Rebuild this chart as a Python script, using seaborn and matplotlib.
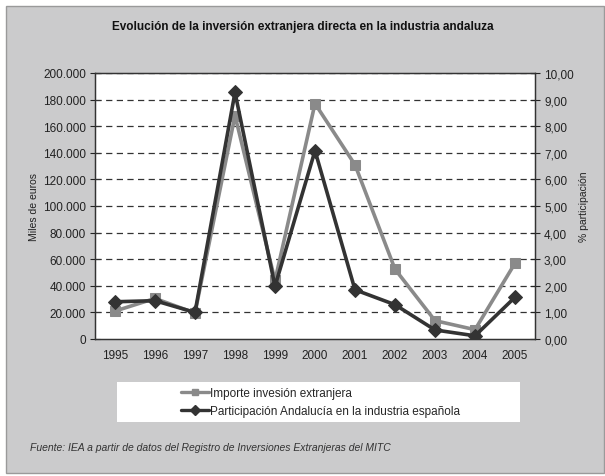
import matplotlib
matplotlib.use("Agg")
import matplotlib.pyplot as plt
from matplotlib.patches import Rectangle
from matplotlib.lines import Line2D
from matplotlib.ticker import FuncFormatter, FixedLocator
import pandas as pd
import seaborn as sns

years = ["1995", "1996", "1997", "1998", "1999", "2000", "2001", "2002", "2003", "2004", "2005"]
importe = [21000, 30500, 19500, 168000, 44000, 177000, 131000, 52500, 13800, 7000, 57000]
participacion = [1.40, 1.44, 1.00, 9.27, 1.98, 7.08, 1.85, 1.29, 0.34, 0.12, 1.57]

serie_importe = "Importe invesión extranjera"
serie_part = "Participación Andalucía en la industria española"

df = pd.DataFrame({"anio": years, "importe": importe, "part": participacion})
df["x"] = range(len(years))

sns.set_style("white")
plt.rcParams["font.family"] = ["Liberation Sans", "DejaVu Sans"]

gray_bg = "#cbcbcc"
c_imp = "#8a8a8a"
c_part = "#333333"

fig = plt.figure(figsize=(6.05, 4.77), dpi=100)
fig.patch.set_facecolor("white")
fig.patches.append(Rectangle((6 / 605, 3 / 477), 598 / 605, 467 / 477,
                             transform=fig.transFigure, facecolor=gray_bg,
                             edgecolor="#9a9a9a", linewidth=1.0, zorder=-10))

ax = fig.add_axes([95 / 605, 1 - 340 / 477, 440 / 605, 266 / 477])
ax.set_facecolor("white")
ax2 = ax.twinx()

# lineas de referencia discontinuas
for y in range(20000, 200001, 20000):
    ax.axhline(y, color="#333333", lw=0.9, ls=(0, (5, 3.5)), zorder=1)

sns.lineplot(data=df, x="x", y="importe", ax=ax, color=c_imp, lw=2.6,
             marker="s", markersize=6.5, markeredgecolor=c_imp, zorder=3)
sns.lineplot(data=df, x="x", y="part", ax=ax2, color=c_part, lw=2.6,
             marker="D", markersize=7, markeredgecolor=c_part, zorder=4)

ax.set_xlim(-0.5, len(years) - 0.5)
ax.set_ylim(0, 200000)
ax2.set_ylim(0, 10)
ax.set_yticks(range(0, 200001, 20000))
ax2.set_yticks([i for i in range(11)])
ax.yaxis.set_major_formatter(FuncFormatter(lambda v, p: f"{int(v):,}".replace(",", ".")))
ax2.yaxis.set_major_formatter(FuncFormatter(lambda v, p: f"{v:.2f}".replace(".", ",")))

ax.set_xticks(range(len(years)))
ax.set_xticklabels(years)
ax.xaxis.set_minor_locator(FixedLocator([i + 0.5 for i in range(-1, len(years))]))
ax.tick_params(axis="x", which="major", length=0, labelsize=8.5, pad=7, colors="#222222")
ax.tick_params(axis="x", which="minor", length=8, width=0.8, direction="inout", color="#333333")
ax.tick_params(axis="y", length=7, width=0.8, direction="inout", labelsize=8.5,
               colors="#222222", pad=3)
ax2.tick_params(axis="y", length=7, width=0.8, direction="inout", labelsize=8.5,
                colors="#222222", pad=3)

ax.set_xlabel("")
ax.set_ylabel("Miles de euros", fontsize=7.5, color="#222222", labelpad=3)
ax2.set_ylabel("% participación", fontsize=7.5, color="#222222", labelpad=4, rotation=90)

for a in (ax, ax2):
    for s in a.spines.values():
        s.set_color("#333333")
        s.set_linewidth(0.9)
ax.set_zorder(ax2.get_zorder() - 1)
ax2.patch.set_visible(False)
ax.patch.set_visible(True)

fig.text(0.5, 1 - 27 / 477, "Evolución de la inversión extranjera directa en la industria andaluza",
         ha="center", va="center", fontsize=8.5, fontweight="bold", color="#111111")

fig.patches.append(Rectangle((117 / 605, 1 - 423 / 477), 403 / 605, 40 / 477,
                             transform=fig.transFigure, facecolor="white",
                             edgecolor="none", zorder=-5))
handles = [Line2D([], [], color=c_imp, lw=2.4, marker="s", markersize=5),
           Line2D([], [], color=c_part, lw=2.4, marker="D", markersize=5)]
fig.legend(handles, [serie_importe, serie_part], loc="center left",
           bbox_to_anchor=(175 / 605, 1 - 403 / 477), frameon=False, fontsize=8.5,
           handlelength=2.4, handletextpad=0.1, labelspacing=0.45, borderpad=0)

fig.text(30 / 605, 1 - 448 / 477,
         "Fuente: IEA a partir de datos del Registro de Inversiones Extranjeras del MITC",
         ha="left", va="center", fontsize=7.5, style="italic", color="#333333")

fig.savefig("out.png", dpi=100)
